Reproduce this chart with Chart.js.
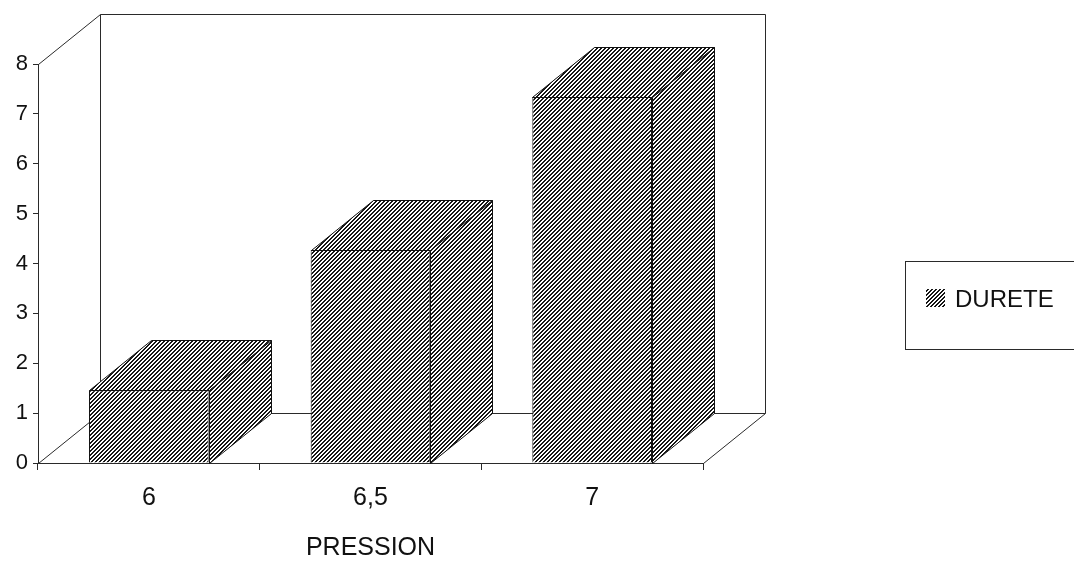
<!DOCTYPE html>
<html>
<head>
<meta charset="utf-8">
<script src="https://cdn.jsdelivr.net/npm/chart.js@4.4.1/dist/chart.umd.min.js"></script>
<style>
  html, body { margin: 0; padding: 0; background: #fff; }
  #wrap { width: 1074px; height: 564px; }
</style>
</head>
<body>
<div id="wrap"><canvas id="c" width="1074" height="564"></canvas></div>
<script>
// Hardness (DURETE) by pressure (PRESSION)
const categories = ['6', '6,5', '7'];
const durete = [1.46, 4.27, 7.34];
const yTicks = [0, 1, 2, 3, 4, 5, 6, 7, 8];
const seriesLabel = 'DURETE';
const xTitle = 'PRESSION';

const FONT = "'Liberation Sans', Arial, Helvetica, sans-serif";
const INK = '#111';
const LINE = '#2a2a2a';

const canvas = document.getElementById('c');
const ctx0 = canvas.getContext('2d');

// diagonal "/" hatch used for every bar face and the legend swatch
function makeHatch(ctx) {
  const t = document.createElement('canvas');
  t.width = 4; t.height = 4;
  const g = t.getContext('2d');
  g.fillStyle = '#fff';
  g.fillRect(0, 0, 4, 4);
  g.fillStyle = '#161616';
  for (let i = 0; i < 4; i++) {
    for (let j = 0; j < 4; j++) {
      const k = (i + j) % 4;
      if (k === 0 || k === 1) g.fillRect(i, j, 1, 1);
    }
  }
  return ctx.createPattern(t, 'repeat');
}
const hatch = makeHatch(ctx0);

const px = v => Math.round(v) + 0.5;

// box walls, floor and the top/side faces of each bar
const depthPlugin = {
  id: 'depth3d',
  beforeDatasetsDraw(chart) {
    const { ctx, chartArea: a, scales: { x, y } } = chart;
    const dy = y.getPixelForValue(1) - y.getPixelForValue(0);
    const dx = (x.getPixelForValue(1) - x.getPixelForValue(0)) * 0.28;

    ctx.save();
    ctx.strokeStyle = LINE;
    ctx.lineWidth = 1;
    ctx.beginPath();
    ctx.moveTo(px(a.left), px(a.top));
    ctx.lineTo(px(a.left + dx), px(a.top + dy));
    ctx.lineTo(px(a.right + dx), px(a.top + dy));
    ctx.lineTo(px(a.right + dx), px(a.bottom + dy));
    ctx.lineTo(px(a.left + dx), px(a.bottom + dy));
    ctx.lineTo(px(a.left + dx), px(a.top + dy));
    ctx.moveTo(px(a.left), px(a.bottom));
    ctx.lineTo(px(a.left + dx), px(a.bottom + dy));
    ctx.moveTo(px(a.right), px(a.bottom));
    ctx.lineTo(px(a.right + dx), px(a.bottom + dy));
    ctx.stroke();

    const meta = chart.getDatasetMeta(0);
    meta.data.forEach(bar => {
      const p = bar.getProps(['x', 'y', 'base', 'width'], true);
      const l = Math.round(p.x - p.width / 2);
      const r = Math.round(p.x + p.width / 2);
      const t = Math.round(p.y);
      const b = Math.round(p.base);
      const ox = Math.round(dx), oy = Math.round(dy);

      ctx.fillStyle = hatch;
      ctx.strokeStyle = INK;
      // top face
      ctx.beginPath();
      ctx.moveTo(l + 0.5, t + 0.5);
      ctx.lineTo(r + 0.5, t + 0.5);
      ctx.lineTo(r + ox + 0.5, t + oy + 0.5);
      ctx.lineTo(l + ox + 0.5, t + oy + 0.5);
      ctx.closePath();
      ctx.fill();
      ctx.stroke();
      // side face
      ctx.beginPath();
      ctx.moveTo(r + 0.5, t + 0.5);
      ctx.lineTo(r + ox + 0.5, t + oy + 0.5);
      ctx.lineTo(r + ox + 0.5, b + oy + 0.5);
      ctx.lineTo(r + 0.5, b + 0.5);
      ctx.closePath();
      ctx.fill();
      ctx.stroke();
    });
    ctx.restore();
  },
  afterDraw(chart) {
    const { ctx } = chart;
    ctx.save();
    ctx.strokeStyle = LINE;
    ctx.lineWidth = 1;
    ctx.strokeRect(905.5, 261.5, 200, 88);
    ctx.fillStyle = hatch;
    ctx.fillRect(926, 289, 19, 18);
    ctx.fillStyle = INK;
    ctx.font = '24px ' + FONT;
    ctx.textBaseline = 'middle';
    ctx.textAlign = 'left';
    ctx.fillText(chart.data.datasets[0].label, 955, 300);
    ctx.restore();
  }
};

new Chart(canvas, {
  type: 'bar',
  data: {
    labels: categories,
    datasets: [{
      label: seriesLabel,
      data: durete,
      backgroundColor: hatch,
      borderColor: INK,
      borderWidth: 1,
      categoryPercentage: 1,
      barPercentage: 0.54
    }]
  },
  plugins: [depthPlugin],
  options: {
    responsive: false,
    animation: false,
    devicePixelRatio: 1,
    layout: { padding: { top: 64, right: 371, bottom: 0, left: 0 } },
    plugins: {
      legend: { display: false },
      tooltip: { enabled: false }
    },
    scales: {
      x: {
        offset: true,
        grid: { offset: true, drawOnChartArea: false, drawTicks: true, tickLength: 7, color: LINE },
        border: { display: true, color: LINE },
        ticks: { color: INK, font: { family: FONT, size: 25 }, padding: 13, maxRotation: 0 },
        title: { display: true, text: xTitle, color: INK, font: { family: FONT, size: 25 }, padding: { top: 0, bottom: 1 } },
        afterFit: s => { s.height = 101; }
      },
      y: {
        min: yTicks[0],
        max: yTicks[yTicks.length - 1],
        afterBuildTicks: s => { s.ticks = yTicks.map(v => ({ value: v })); },
        grid: { drawOnChartArea: false, drawTicks: true, tickLength: 5, color: LINE },
        border: { display: true, color: LINE },
        ticks: { color: INK, font: { family: FONT, size: 22 }, padding: 5 },
        afterFit: s => { s.width = 38; }
      }
    }
  }
});
</script>
</body>
</html>
